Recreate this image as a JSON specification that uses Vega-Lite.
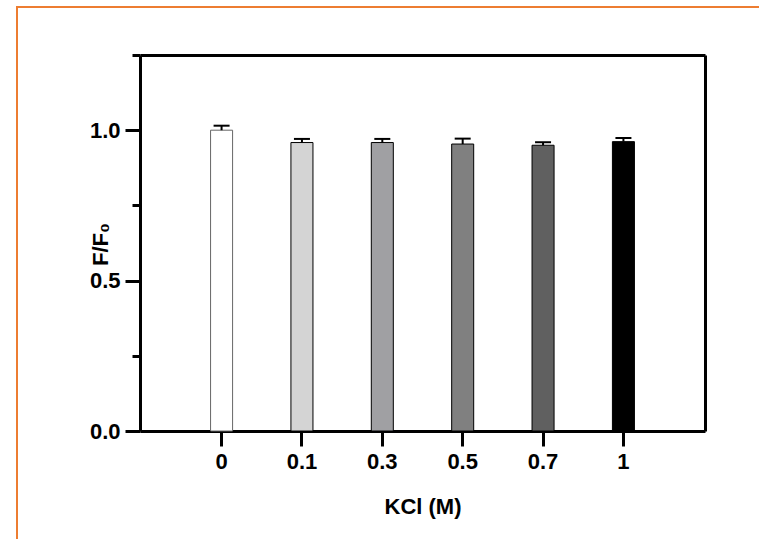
{
  "$schema": "https://vega.github.io/schema/vega-lite/v6.json",
  "width": 750,
  "height": 550,
  "autosize": {"type": "none"},
  "padding": {"left": 17, "top": 7, "right": -8, "bottom": -18},
  "background": "white",
  "config": {
    "view": {"stroke": "#ED7D31", "strokeWidth": 2},
    "font": "Liberation Sans",
    "axis": {
      "grid": false,
      "domainColor": "black",
      "domainWidth": 3,
      "tickColor": "black",
      "tickWidth": 3,
      "labelFont": "Liberation Sans",
      "labelFontWeight": "bold",
      "labelColor": "black",
      "labelFontSize": 22,
      "titleFont": "Liberation Sans",
      "titleFontWeight": "bold",
      "titleColor": "black",
      "titleFontSize": 22
    }
  },
  "data": {
    "values": [
      {"kcl": "0", "ratio": 1.000, "upper": 1.015},
      {"kcl": "0.1", "ratio": 0.959, "upper": 0.971},
      {"kcl": "0.3", "ratio": 0.959, "upper": 0.971},
      {"kcl": "0.5", "ratio": 0.954, "upper": 0.972},
      {"kcl": "0.7", "ratio": 0.950, "upper": 0.960},
      {"kcl": "1", "ratio": 0.962, "upper": 0.974}
    ]
  },
  "encoding": {
    "x": {
      "field": "kcl",
      "type": "ordinal",
      "sort": null,
      "scale": {"range": [123, 688], "paddingInner": 0.726, "paddingOuter": 0.878}
    }
  },
  "layer": [
    {
      "mark": {"type": "bar", "strokeWidth": 1},
      "encoding": {
        "x": {
          "field": "kcl",
          "type": "ordinal",
          "sort": null,
          "axis": {
            "orient": "bottom",
            "offset": -126,
            "title": "KCl (M)",
            "labelAngle": 0,
            "tickSize": 15,
            "labelPadding": 5,
            "titleY": 82,
            "titleBaseline": "alphabetic"
          }
        },
        "y": {
          "field": "ratio",
          "type": "quantitative",
          "scale": {"domain": [0, 1.25], "range": [424, 48], "nice": false, "zero": true},
          "axis": {
            "orient": "left",
            "offset": -123,
            "values": [0, 0.25, 0.5, 0.75, 1, 1.25],
            "labelExpr": "datum.value % 0.5 === 0 ? format(datum.value, '.1f') : ''",
            "tickSize": {"condition": {"test": "datum.value % 0.5 === 0", "value": 15}, "value": 8},
            "labelPadding": 5,
            "title": "F/F₀",
            "titleAngle": -90,
            "titleX": -40,
            "titleY": 237,
            "titleAlign": "center",
            "titleBaseline": "middle"
          }
        },
        "color": {
          "field": "kcl",
          "type": "nominal",
          "sort": null,
          "scale": {
            "domain": ["0", "0.1", "0.3", "0.5", "0.7", "1"],
            "range": ["#ffffff", "#d4d4d4", "#a0a0a3", "#808080", "#606060", "#000000"]
          },
          "legend": null
        },
        "stroke": {
          "field": "kcl",
          "type": "nominal",
          "sort": null,
          "scale": {
            "domain": ["0", "0.1", "0.3", "0.5", "0.7", "1"],
            "range": ["#666666", "#000000", "#000000", "#000000", "#000000", "#000000"]
          },
          "legend": null
        }
      }
    },
    {
      "mark": {"type": "rule", "strokeWidth": 2, "color": "black"},
      "encoding": {
        "x": {
          "field": "kcl",
          "type": "ordinal",
          "sort": null,
          "axis": {"orient": "top", "offset": -48, "labels": false, "ticks": false, "title": null}
        },
        "y": {
          "field": "ratio",
          "type": "quantitative",
          "axis": {"orient": "right", "offset": -62, "labels": false, "ticks": false, "title": null}
        },
        "y2": {"field": "upper"}
      }
    },
    {
      "mark": {"type": "tick", "orient": "horizontal", "size": 16, "thickness": 2, "color": "black", "opacity": 1},
      "encoding": {
        "x": {"field": "kcl", "type": "ordinal", "sort": null, "axis": null},
        "y": {"field": "upper", "type": "quantitative", "axis": null}
      }
    }
  ],
  "resolve": {"axis": {"x": "independent", "y": "independent"}}
}
